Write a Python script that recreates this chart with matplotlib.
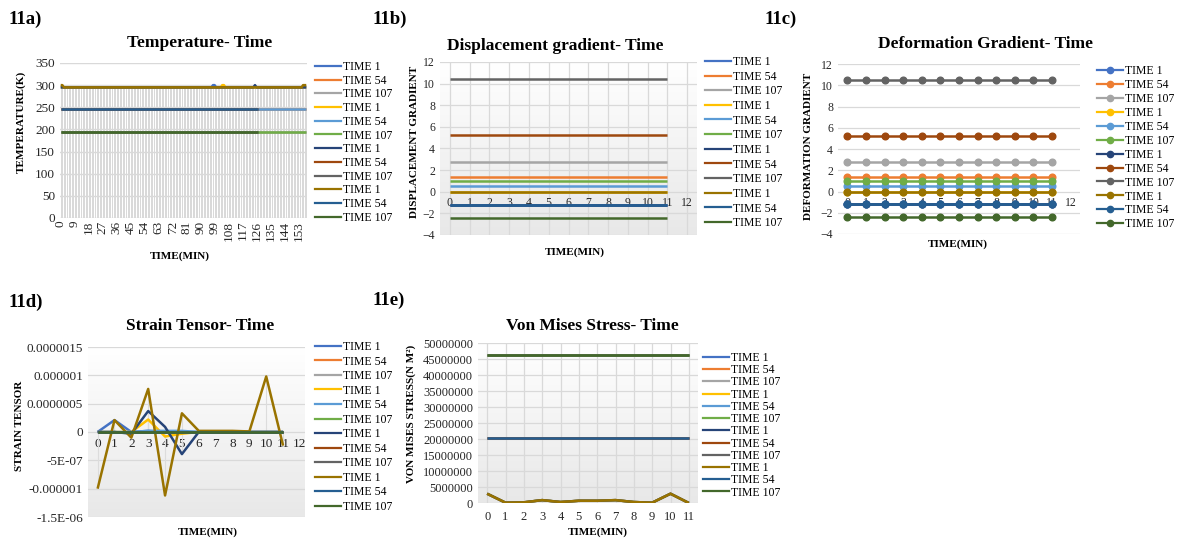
import numpy as np
import matplotlib
matplotlib.use("Agg")
import matplotlib.pyplot as plt
from matplotlib.lines import Line2D
from matplotlib.colors import LinearSegmentedColormap

plt.rcParams["font.family"] = ["Liberation Serif", "DejaVu Serif"]

W, H = 1178, 539

# ---------------------------------------------------------------- data
series_labels = ["TIME 1", "TIME 54", "TIME 107"] * 4
series_colors = ["#4472C4", "#ED7D31", "#A5A5A5", "#FFC000", "#5B9BD5", "#70AD47",
                 "#264478", "#9E480E", "#636363", "#997300", "#255E91", "#43682B"]

# 11a) temperature (K) against minute index; flat levels with a few local peaks
temp_count = 159
temp_levels = [295, 247, 195, 295, 247, 195, 295, 247, 195, 295, 247, 195]
temp_lengths = [159, 159, 159, 159, 159, 159, 159, 128, 128, 159, 128, 128]
temp_peaks = {
    0: {98: 300, 99: 300},
    3: {104: 300, 105: 300},
    6: {125: 300},
    9: {0: 300, 1: 300, 156: 300, 157: 300, 158: 300},
}
temp_ticks = list(range(0, 154, 9))

# 11b) displacement gradient, 11c) deformation gradient (constant in time)
grad_minutes = [0, 1, 2, 3, 4, 5, 6, 7, 8, 9, 10, 11]
disp_levels = [-1.2, 1.4, 2.75, 0.0, 0.5, 1.0, -1.2, 5.25, 10.45, 0.0, -1.2, -2.4]
deform_levels = [-1.2, 1.4, 2.75, 0.0, 0.5, 1.0, -1.2, 5.25, 10.45, 0.0, -1.2, -2.4]

# 11d) strain tensor (units of 1e-7)
strain_minutes = [0, 1, 2, 3, 4, 5, 6, 7, 8, 9, 10, 11]
strain_e7 = [
    [0, 2.1, 0, 0.2, 0, 0, 0, 0, 0, 0, 0, 0],
    [0, 0, 0, 0, 0, 0, 0, 0, 0, 0, 0, 0],
    [0, 0, 0, 0, 0, 0, 0, 0, 0, 0, 0, 0],
    [0, 0, 0, 2.2, -0.8, -0.3, 0, 0, 0, 0, 0, 0],
    [0, 0, 0, 0.2, 0.2, 0.2, 0, 0, 0, 0, 0, 0],
    [0, 0, 0, 0, 0, 0, 0, 0, 0, 0, 0, 0],
    [0, 0, -0.3, 3.7, 0.9, -3.9, 0, 0, 0, 0, 0, 0],
    [0, 0, 0, 0, 0, 0, 0, 0, 0, 0, 0, 0],
    [0, 0, 0, 0, 0, 0, 0, 0, 0, 0, 0, 0],
    [-10.0, 2.1, -1.0, 7.6, -11.2, 3.3, 0.2, 0.2, 0.2, 0.1, 9.8, -2.4],
    [0, 0, 0, 0, 0, 0, 0, 0, 0, 0, 0, 0],
    [0, 0, 0, 0, 0, 0, 0, 0, 0, 0, 0, 0],
]
strain_ticklabels = ["-1.5E-06", "-0.000001", "-5E-07", "0", "0.0000005", "0.000001", "0.0000015"]

# 11e) von Mises stress (N/m^2)
vm_minutes = [0, 1, 2, 3, 4, 5, 6, 7, 8, 9, 10, 11]
vm_time1 = [2.9e6, 0.1e6, 0.2e6, 0.9e6, 0.3e6, 0.7e6, 0.7e6, 0.9e6, 0.3e6, 0.1e6, 2.9e6, 0.0]
vm_time54 = 2.04e7
vm_time107 = 4.62e7
vm_groups = ["t1", "t54", "t107"] * 4


# ---------------------------------------------------------------- helpers
def rect(x0, y0, x1, y1):
    return [x0 / W, 1 - y1 / H, (x1 - x0) / W, (y1 - y0) / H]


def fx(px):
    return px / W


def fy(py):
    return 1 - py / H


def gradient_bg(ax, bottom="#e8e8e8"):
    cmap = LinearSegmentedColormap.from_list("bg", ["#ffffff", bottom])
    grad = np.linspace(0, 1, 256).reshape(-1, 1)
    ax.imshow(grad, cmap=cmap, extent=[0, 1, 0, 1], transform=ax.transAxes,
              aspect="auto", zorder=0, interpolation="bilinear")


def clean(ax, size):
    for s in ax.spines.values():
        s.set_visible(False)
    ax.tick_params(length=0, labelsize=size, colors="#262626")


def legend(handles, x, y, spacing):
    fig.legend(handles=handles, labels=series_labels, loc="upper left",
               bbox_to_anchor=(fx(x), fy(y)), frameon=False, fontsize=8.5,
               handlelength=2.2, handletextpad=0.2, labelspacing=spacing,
               borderpad=0, borderaxespad=0)


line_kw = dict(lw=1.8, solid_capstyle="butt")
grid_c = "#d9d9d9"
bold = dict(fontweight="bold", fontsize=8)

fig = plt.figure(figsize=(W / 100, H / 100), dpi=100)

# ---------------------------------------------------------------- 11a
ax = fig.add_axes(rect(60, 63, 307, 218))
clean(ax, 9.5)
temp_series = []
for i in range(12):
    n = temp_lengths[i]
    y = np.full(n, float(temp_levels[i]))
    for k, v in temp_peaks.get(i, {}).items():
        y[k] = v
    temp_series.append(y)
for y in temp_series:
    ax.vlines(np.arange(len(y)), 0, y, colors="#d9d9d9", lw=0.7, zorder=1)
for i, y in enumerate(temp_series):
    ax.plot(np.arange(len(y)), y, color=series_colors[i], zorder=3, **line_kw)
ax.set_xlim(-0.5, temp_count - 0.5)
ax.set_ylim(0, 350)
ax.set_yticks(range(0, 351, 50))
ax.yaxis.grid(True, color=grid_c, lw=1)
ax.set_axisbelow(True)
ax.set_xticks(temp_ticks)
ax.set_xticklabels([str(t) for t in temp_ticks], rotation=90)
ax.tick_params(axis="x", pad=2)
ax.set_ylabel("TEMPERATURE(K)", **bold)
ax.yaxis.set_label_coords(-0.138, 0.62)
ax.set_xlabel("TIME(MIN)", **bold)
ax.xaxis.set_label_coords(0.486, -0.215)
legend([Line2D([], [], color=c, lw=1.6) for c in series_colors], 315, 61, 0.145)

# ---------------------------------------------------------------- 11b
ax = fig.add_axes(rect(440, 62, 697, 235))
clean(ax, 8.5)
gradient_bg(ax)
for i, lv in enumerate(disp_levels):
    ax.plot(grad_minutes, [lv] * len(grad_minutes), color=series_colors[i], zorder=3, **line_kw)
ax.set_xlim(-0.5, 12.5)
ax.set_ylim(-4, 12)
ax.set_xticks(range(0, 13))
ax.set_yticks(range(-4, 13, 2))
ax.grid(True, color=grid_c, lw=0.9)
ax.set_axisbelow(True)
ax.spines["bottom"].set_position(("data", 0))
ax.tick_params(axis="x", pad=4)
ax.set_ylabel("DISPLACEMENT GRADIENT", **bold)
ax.yaxis.set_label_coords(-0.082, 0.54)
ax.set_xlabel("TIME(MIN)", **bold)
ax.xaxis.set_label_coords(0.525, -0.07)
legend([Line2D([], [], color=c, lw=1.6) for c in series_colors], 705, 56, 0.225)

# ---------------------------------------------------------------- 11c
ax = fig.add_axes(rect(838, 64, 1080, 234))
clean(ax, 8.5)
for i, lv in enumerate(deform_levels):
    ax.plot(grad_minutes, [lv] * len(grad_minutes), color=series_colors[i], marker="o",
            ms=4.8, zorder=3, **line_kw)
ax.set_xlim(-0.5, 12.5)
ax.set_ylim(-4, 12)
ax.set_xticks(range(0, 13))
ax.set_yticks(range(-4, 13, 2))
ax.yaxis.grid(True, color=grid_c, lw=0.9)
ax.set_axisbelow(True)
ax.spines["bottom"].set_position(("data", 0))
ax.tick_params(axis="x", pad=4)
ax.set_ylabel("DEFORMATION GRADIENT", **bold)
ax.yaxis.set_label_coords(-0.104, 0.518)
ax.set_xlabel("TIME(MIN)", **bold)
ax.xaxis.set_label_coords(0.496, -0.03)
legend([Line2D([], [], color=c, lw=1.6, marker="o", ms=4.5) for c in series_colors],
       1097, 65, 0.165)

# ---------------------------------------------------------------- 11d
ax = fig.add_axes(rect(88, 347, 305, 517))
clean(ax, 9.5)
gradient_bg(ax)
strain_vals = [np.array(s) * 1e-7 for s in strain_e7]
for s in strain_vals:
    ax.vlines(strain_minutes, 0, s, colors="#dcdcdc", lw=0.8, zorder=1)
for i, s in enumerate(strain_vals):
    ax.plot(strain_minutes, s, color=series_colors[i], zorder=3, **line_kw)
ax.set_xlim(-0.57, 12.3)
ax.set_ylim(-1.5e-6, 1.5e-6)
ax.set_xticks(range(0, 13))
ax.set_yticks(np.linspace(-1.5e-6, 1.5e-6, 7))
ax.set_yticklabels(strain_ticklabels)
ax.yaxis.grid(True, color=grid_c, lw=0.9)
ax.set_axisbelow(True)
ax.spines["bottom"].set_position(("data", 0))
ax.tick_params(axis="x", pad=4)
ax.set_ylabel("STRAIN TENSOR", **bold)
ax.yaxis.set_label_coords(-0.295, 0.535)
ax.set_xlabel("TIME(MIN)", **bold)
ax.xaxis.set_label_coords(0.553, -0.06)
legend([Line2D([], [], color=c, lw=1.6) for c in series_colors], 315, 341, 0.215)

# ---------------------------------------------------------------- 11e
ax = fig.add_axes(rect(478, 343, 698, 503))
clean(ax, 9)
gradient_bg(ax)
vm_lookup = {"t1": vm_time1, "t54": [vm_time54] * len(vm_minutes),
             "t107": [vm_time107] * len(vm_minutes)}
for i, g in enumerate(vm_groups):
    ax.plot(vm_minutes, vm_lookup[g], color=series_colors[i], zorder=3, **line_kw)
ax.set_xlim(-0.5, 11.5)
ax.set_ylim(0, 5e7)
ax.set_xticks(vm_minutes)
ax.set_yticks(np.arange(0, 5.0e7 + 1, 5e6))
ax.set_yticklabels([f"{int(v)}" for v in np.arange(0, 5.0e7 + 1, 5e6)])
ax.grid(True, color=grid_c, lw=0.9)
ax.set_axisbelow(True)
ax.tick_params(axis="x", pad=6)
ax.set_ylabel("VON MISES STRESS(N M²)", **bold)
ax.yaxis.set_label_coords(-0.283, 0.56)
ax.set_xlabel("TIME(MIN)", **bold)
ax.xaxis.set_label_coords(0.545, -0.155)
legend([Line2D([], [], color=c, lw=1.6) for c in series_colors], 703, 352, 0.02)

# ---------------------------------------------------------------- titles
title_kw = dict(ha="center", va="center", fontsize=12.5, fontweight="bold")
fig.text(fx(200), fy(43), "Temperature- Time", **title_kw)
fig.text(fx(555), fy(46), "Displacement gradient- Time", **title_kw)
fig.text(fx(985), fy(44), "Deformation Gradient- Time", **title_kw)
fig.text(fx(200), fy(326), "Strain Tensor- Time", **title_kw)
fig.text(fx(592), fy(326), "Von Mises Stress- Time", **title_kw)

tag_kw = dict(ha="left", va="center", fontsize=13.5, fontweight="bold")
fig.text(fx(9), fy(19), "11a)", **tag_kw)
fig.text(fx(373), fy(19), "11b)", **tag_kw)
fig.text(fx(765), fy(19), "11c)", **tag_kw)
fig.text(fx(9), fy(302), "11d)", **tag_kw)
fig.text(fx(373), fy(300), "11e)", **tag_kw)

fig.savefig("out.png", dpi=100)
